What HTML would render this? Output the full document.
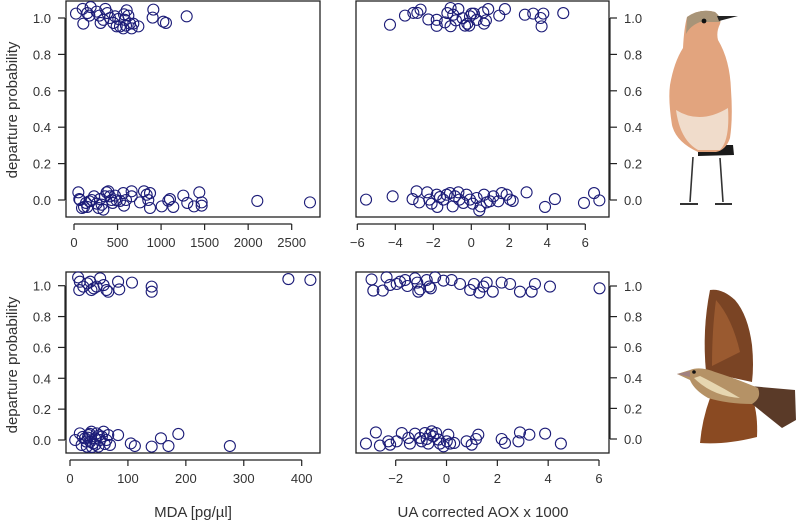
<!DOCTYPE html>
<html><head><meta charset="utf-8">
<style>
html,body{margin:0;padding:0;background:#fff;}
svg{display:block;font-family:"Liberation Sans",Arial,sans-serif;}
</style></head>
<body>
<svg id="fig" width="797" height="522" viewBox="0 0 797 522">
  <text x="0" y="0" transform="translate(17,110) rotate(-90)" text-anchor="middle" font-size="15" fill="#333">departure probability</text>
  <text x="0" y="0" transform="translate(17,365) rotate(-90)" text-anchor="middle" font-size="15" fill="#333">departure probability</text>
  <text x="193" y="517" text-anchor="middle" font-size="15" fill="#333">MDA [pg/µl]</text>
  <text x="483" y="517" text-anchor="middle" font-size="15" fill="#333">UA corrected AOX x 1000</text>

  <!-- wheatear illustration -->
  <g>
    <path d="M693 157 L690 202 M720 158 L723 202" stroke="#333" stroke-width="1.6" fill="none"/>
    <path d="M680 204 L698 204 M715 204 L732 204" stroke="#333" stroke-width="2" fill="none"/>
    <path d="M698 145 L733 145 L734 155 L698 156 Z" fill="#1a1a1a"/>
    <path d="M687 17 Q700 8 715 12 Q722 18 720 24 Q716 32 718 40 Q730 60 731 90 Q733 118 730 138 Q726 150 716 152 L698 152 Q676 142 672 125 Q668 100 670 85 Q674 62 683 48 Q684 28 687 17 Z" fill="#e2a47e"/>
    <path d="M676 110 Q700 125 728 108 Q730 140 720 150 L698 150 Q680 140 676 110 Z" fill="#f0dccb"/>
    <path d="M687 17 Q700 8 715 12 Q722 18 720 22 L700 22 Q690 26 686 34 Z" fill="#a89478"/>
    <path d="M717 16 L738 16 L719 21 Z" fill="#222"/>
    <circle cx="704" cy="21" r="2.4" fill="#111"/>
  </g>
  <!-- thrush illustration -->
  <g>
    <path d="M706 372 Q702 330 710 290 Q722 288 735 300 Q748 315 752 345 Q754 365 752 382 Z" fill="#7a4424"/>
    <path d="M712 366 Q712 330 716 300 Q732 318 740 352 Z" fill="#9a5a30"/>
    <path d="M710 398 Q702 420 700 443 Q725 445 757 437 Q758 415 753 400 Z" fill="#8a4a22"/>
    <path d="M750 386 L795 390 L796 420 L782 428 L752 404 Z" fill="#5a3a28"/>
    <path d="M677 374 L690 370 Q700 366 715 372 Q740 380 758 388 Q762 398 752 404 Q728 404 708 398 Q694 390 690 380 Z" fill="#b59266"/>
    <path d="M694 378 Q712 396 740 398 Q720 386 700 376 Z" fill="#e6d6b0"/>
    <path d="M677 374 L690 371 L690 377 Z" fill="#a08080"/>
    <circle cx="694" cy="372" r="1.8" fill="#111"/>
  </g>
</svg>
<script>
// ---- data: top-left (MDA, wheatear) ----
const tlDepX = [23,100,107,153,176,191,260,291,306,337,360,383,413,452,490,471,509,574,605,566,528,597,681,739,643,586,624,662,911,903,1026,1056,1294];
const tlDepY = [1.024,1.05,0.969,1.027,1.013,1.06,1.035,1.013,0.973,0.99,1.05,1.027,1.0,0.973,0.954,1.009,0.995,1.02,1.042,0.943,0.954,0.958,0.969,0.954,0.969,0.99,1.013,0.943,1.046,1.002,0.98,0.973,1.009];
const tlStayX = [50,61,69,92,115,138,153,176,203,230,260,283,298,318,337,356,375,394,413,432,444,471,490,528,566,574,597,662,662,758,804,834,853,873,873,1007,1083,1102,1140,1255,1301,1378,1439,1466,1466,2105,2710];
const tlStayY = [0.042,0.005,0,-0.044,-0.038,-0.016,-0.038,-0.007,0,0.02,-0.02,-0.044,0.005,-0.026,-0.053,0.02,0.042,0.048,0.02,0,-0.016,0.024,-0.002,-0.005,0.038,-0.031,0,0.048,0.02,-0.013,0.048,0.029,0,-0.044,0.038,-0.035,-0.004,0.005,-0.038,0.024,-0.016,-0.035,0.042,-0.013,-0.031,-0.005,-0.013];
// ---- data: top-right (AOX, wheatear) ----
const trDepX = [-4.28,-3.49,-3.05,-2.84,-2.67,-2.26,-1.82,-1.82,-1.39,-1.26,-1.09,-1.09,-0.95,-0.81,-0.68,-0.46,-0.33,-0.21,-0.11,-0.07,0.02,0.14,0.28,0.63,0.67,0.77,0.89,1.47,1.77,2.82,3.26,3.79,3.65,3.70,4.84];
const trDepY = [0.963,1.013,1.028,1.028,1.046,0.992,0.99,0.957,0.976,1.027,1.055,0.955,1.018,0.987,1.049,0.999,0.958,0.969,0.958,1.009,1.024,1.024,0.99,1.031,0.969,0.987,1.049,1.013,1.049,1.018,1.024,1.024,1.0,0.954,1.027];
const trStayX = [-5.54,-4.14,-3.09,-2.88,-2.74,-2.32,-2.21,-2.09,-1.82,-1.79,-1.65,-1.47,-1.30,-1.12,-0.98,-0.86,-0.68,-0.63,-0.42,-0.25,-0.07,0.07,0.28,0.42,0.49,0.67,0.81,0.98,1.16,1.42,1.60,1.86,2.04,2.18,2.91,3.88,4.40,5.93,6.46,6.74];
const trStayY = [0.002,0.02,0.005,0.048,-0.013,0.042,0.002,-0.02,0.029,-0.038,0.016,0.002,0.029,0.038,-0.035,0.02,0.042,0.002,-0.016,0.029,0.002,-0.02,0.011,-0.057,-0.035,0.029,-0.013,-0.007,0.02,-0.007,0.038,0.029,0.002,-0.005,0.042,-0.038,0.005,-0.016,0.038,-0.002];
// ---- data: bottom-left (MDA, thrush) ----
const blDepX = [14,17,16,23,30,35,37,41,46,52,58,63,66,83,85,107,141,141,377,415];
const blDepY = [1.054,1.026,0.972,0.994,1.015,1.026,0.972,0.983,0.994,1.048,1.004,0.972,0.961,1.026,0.976,1.02,0.994,0.961,1.043,1.037];
const blStayX = [9,17,20,26,29,32,35,37,40,43,46,49,52,55,58,60,63,66,69,22,28,34,44,50,38,31,83,105,112,141,157,170,187,276];
const blStayY = [0,0.043,-0.032,0.011,-0.043,0.032,-0.011,0.054,-0.022,0.011,0.043,-0.043,0,0.022,0.054,-0.026,0,0.032,-0.032,0.02,-0.01,0.04,-0.03,0.03,-0.045,0.015,0.032,-0.022,-0.039,-0.043,0.011,-0.039,0.039,-0.039];
// ---- data: bottom-right (AOX, thrush) ----
const brDepX = [-2.95,-2.88,-2.51,-2.36,-2.22,-1.96,-1.83,-1.63,-1.54,-1.24,-1.15,-1.11,-1.04,-0.78,-0.68,-0.62,-0.45,-0.12,0.20,0.53,0.93,1.08,1.29,1.45,1.58,1.82,2.17,2.50,2.89,3.35,3.48,4.07,6.02];
const brDepY = [1.043,0.970,0.970,1.057,1.007,1.013,1.028,1.039,1.0,1.05,1.022,0.963,0.978,1.039,0.996,0.985,1.057,1.035,1.039,1.013,0.974,1.013,0.957,0.996,1.022,0.963,1.022,1.013,0.963,0.963,1.013,0.996,0.985];
const brStayX = [-3.17,-2.78,-2.62,-2.29,-2.22,-1.96,-1.76,-1.50,-1.44,-1.24,-1.04,-0.98,-0.85,-0.78,-0.72,-0.65,-0.58,-0.52,-0.41,-0.32,-0.26,-0.12,0.01,0.07,0.14,0.30,0.79,0.99,1.16,1.25,2.17,2.30,2.83,2.89,3.26,3.88,4.50];
const brStayY = [-0.030,0.043,-0.043,-0.015,-0.037,-0.015,0.039,0.007,-0.030,0.035,0.007,-0.015,0.039,0,-0.030,0.028,0.050,0.017,0.039,-0.004,-0.030,-0.048,-0.015,0.028,-0.030,-0.026,-0.015,-0.037,0,0.028,0,-0.026,-0.015,0.043,0.028,0.035,-0.030];
// ---- tick labels ----
const tlTicks = [0,500,1000,1500,2000,2500];
const trTicks = [-6,-4,-2,0,2,4,6];
const blTicks = [0,100,200,300,400];
const brTicks = [-2,0,2,4,6];
const yTicks = [0,0.2,0.4,0.6,0.8,1.0];

const NS = "http://www.w3.org/2000/svg";
const svg = document.getElementById('fig');
function mk(tag, attrs, parent){const e=document.createElementNS(NS,tag);for(const k in attrs)e.setAttribute(k,attrs[k]);(parent||svg).appendChild(e);return e;}

function panel(name, box, xd, xr, yr, xTicks, side, series){
  const g = mk('g',{});
  
  
  const sx = v => xr[0] + (v - xd[0]) / (xd[1] - xd[0]) * (xr[1] - xr[0]);
  const sy = v => yr[0] + v * (yr[1] - yr[0]);
  const frame = mk('rect',{x:box[0],y:box[1],width:box[2]-box[0],height:box[3]-box[1],fill:'none',stroke:'#222','stroke-width':1.3},g);
  
  
  const ax = mk('g',{},g);
  
  
  const ay0 = box[3] + 7;
  mk('line',{x1:sx(xTicks[0]),x2:sx(xTicks[xTicks.length-1]),y1:ay0,y2:ay0,stroke:'#222','stroke-width':1.2},ax);
  xTicks.forEach(t=>{
    mk('line',{x1:sx(t),x2:sx(t),y1:ay0,y2:ay0+6,stroke:'#222','stroke-width':1.2},ax);
    const tx = mk('text',{x:sx(t),y:ay0+23,'text-anchor':'middle','font-size':13,fill:'#333'},ax);
    tx.textContent = String(t).replace('-', '\u2212');
    
    
  });
  const yg = mk('g',{},g);
  
  
  const axX = side === 'left' ? box[0] - 1 : box[2] + 1;
  mk('line',{x1:axX,x2:axX,y1:sy(0),y2:sy(1),stroke:'#222','stroke-width':1.2},yg);
  yTicks.forEach(t=>{
    const d = side === 'left' ? -7 : 7;
    mk('line',{x1:axX,x2:axX+d,y1:sy(t),y2:sy(t),stroke:'#222','stroke-width':1.2},yg);
    const tx = mk('text',{x: side==='left'? axX-14 : axX+14, y:sy(t)+5,'text-anchor': side==='left'?'end':'start','font-size':13,fill:'#333'},yg);
    tx.textContent = t.toFixed(1);
    
    
  });
  series.forEach(([xs,ys,sname])=>{
    const sg = mk('g',{},g);
    
    
    xs.forEach((v,i)=>{
      const c = mk('circle',{cx:sx(v),cy:sy(ys[i]),r:5.5,fill:'none',stroke:'#1c1c78','stroke-width':1.1},sg);
      
      
    });
  });
}
panel('panel-wheatear-mda',[66,1,320,217],[0,2500],[74,291.7],[200,18],tlTicks,'left',[[tlDepX,tlDepY,'departed-points'],[tlStayX,tlStayY,'stayed-points']]);
panel('panel-wheatear-aox',[356,1,609,217],[-6,6],[357.3,585.3],[200,18],trTicks,'right',[[trDepX,trDepY,'departed-points'],[trStayX,trStayY,'stayed-points']]);
panel('panel-thrush-mda',[66,272,320,453],[0,400],[70,301.7],[440,285.7],blTicks,'left',[[blDepX,blDepY,'departed-points'],[blStayX,blStayY,'stayed-points']]);
panel('panel-thrush-aox',[356,272,609,453],[-2,6],[395.7,599],[439,286],brTicks,'right',[[brDepX,brDepY,'departed-points'],[brStayX,brStayY,'stayed-points']]);
</script>
</body></html>
